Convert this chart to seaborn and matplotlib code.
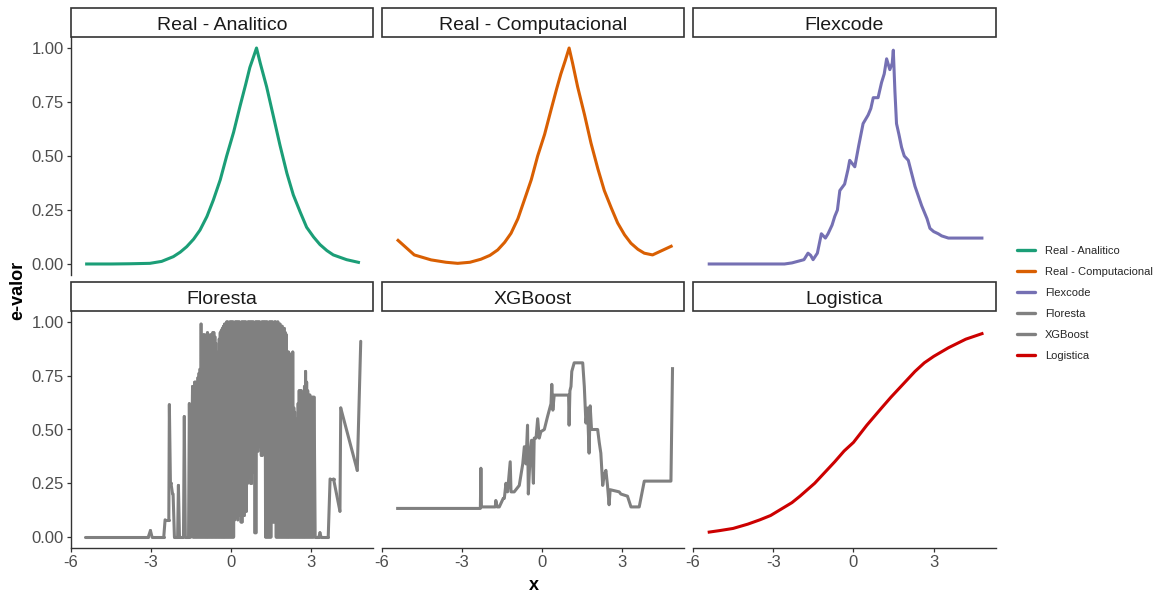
import numpy as np
import pandas as pd
import matplotlib
matplotlib.use("Agg")
import matplotlib.pyplot as plt
from matplotlib.patches import Rectangle
from matplotlib.lines import Line2D
import seaborn as sns

modelos = ["Real - Analitico", "Real - Computacional", "Flexcode",
           "Floresta", "XGBoost", "Logistica"]
cores = ["#1B9E77", "#D95F02", "#7570B3", "#808080", "#808080", "#CC0000"]

x_ticks = [-6, -3, 0, 3]
y_ticks = [0.0, 0.25, 0.50, 0.75, 1.0]
y_tick_labels = ["0.00", "0.25", "0.50", "0.75", "1.00"]

analitico_x = [-5.47, -4.5, -3.8, -3.04, -2.6, -2.16, -1.9, -1.66, -1.4, -1.16, -0.9, -0.66,
               -0.4, -0.16, 0.1, 0.34, 0.55, 0.71, 0.85, 0.96, 1.1, 1.34, 1.6, 1.84, 2.1,
               2.34, 2.6, 2.84, 3.1, 3.34, 3.6, 3.84, 4.34, 4.84]
analitico_y = [0.0, 0.0, 0.001, 0.003, 0.012, 0.034, 0.055, 0.08, 0.115, 0.157, 0.22, 0.296,
               0.39, 0.50, 0.61, 0.73, 0.83, 0.91, 0.96, 1.0, 0.93, 0.82, 0.68, 0.55, 0.42,
               0.32, 0.24, 0.17, 0.125, 0.09, 0.062, 0.042, 0.02, 0.006]

comput_x = [-5.44, -4.79, -4.16, -3.6, -3.16, -2.7, -2.29, -1.95, -1.66, -1.4, -1.16, -0.9,
            -0.66, -0.4, -0.16, 0.1, 0.34, 0.55, 0.71, 0.87, 1.02, 1.15, 1.34, 1.6, 1.84,
            2.1, 2.34, 2.6, 2.84, 3.1, 3.34, 3.6, 3.84, 4.15, 4.9]
comput_y = [0.114, 0.042, 0.019, 0.008, 0.003, 0.008, 0.022, 0.04, 0.065, 0.10, 0.142, 0.21,
            0.296, 0.39, 0.50, 0.60, 0.713, 0.81, 0.88, 0.94, 1.0, 0.93, 0.82, 0.69, 0.56,
            0.44, 0.34, 0.26, 0.19, 0.135, 0.096, 0.068, 0.05, 0.042, 0.085]

flex_x = [-5.45, -2.58, -2.3, -2.0, -1.85, -1.7, -1.6, -1.51, -1.35, -1.2, -1.05, -0.95,
          -0.8, -0.7, -0.6, -0.51, -0.33, -0.2, -0.14, 0.05, 0.2, 0.36, 0.55, 0.65, 0.74,
          0.92, 1.05, 1.15, 1.24, 1.36, 1.45, 1.49, 1.55, 1.61, 1.7, 1.8, 1.9, 2.05, 2.3,
          2.55, 2.75, 2.86, 3.0, 3.17, 3.3, 3.55, 4.0, 4.86]
flex_y = [0.0, 0.0, 0.005, 0.015, 0.02, 0.05, 0.04, 0.02, 0.05, 0.14, 0.12, 0.14,
          0.18, 0.22, 0.25, 0.34, 0.37, 0.44, 0.48, 0.45, 0.55, 0.65, 0.69, 0.72, 0.77,
          0.77, 0.84, 0.88, 0.95, 0.90, 0.93, 0.99, 0.80, 0.65, 0.60, 0.54, 0.50, 0.48, 0.36,
          0.27, 0.21, 0.165, 0.15, 0.14, 0.13, 0.12, 0.12, 0.12]

# Floresta: sparse parts (left and right of the dense zone)
floresta_x = [-5.47, -3.10, -3.02, -2.96, -2.52, -2.47, -2.33, -2.31, -2.27, -2.25, -2.19,
              -2.17, -2.12, -2.00, -1.97, -1.93, -1.78, -1.75, -1.71, -1.59, -1.56, -1.51,
              3.16, 3.30, 3.34, 3.38, 3.65, 3.72, 3.85, 4.09, 4.12, 4.74, 4.87]
floresta_y = [0, 0, 0.03, 0, 0, 0.08, 0.08, 0.615, 0.25, 0.25, 0.20,
              0.20, 0, 0, 0.24, 0, 0, 0.56, 0, 0, 0.62, 0,
              0, 0, 0.02, 0, 0, 0.27, 0.27, 0.12, 0.60, 0.31, 0.91]
# Floresta: dense oscillating zone, upper readings
floresta_hi_x = [-1.44, -1.40, -1.36, -1.32, -1.28, -1.24, -1.20, -1.16, -1.12, -1.08,
                 -1.04, -1.00, -0.96, -0.92, -0.88, -0.84, -0.80, -0.76, -0.72, -0.68,
                 -0.64, -0.60, -0.56, -0.52, -0.48, -0.44, -0.40, -0.36, -0.32, -0.28,
                 -0.24, -0.20, -0.16, -0.12, -0.08, -0.04, 0.00, 0.04, 0.08, 0.12,
                 0.16, 0.20, 0.24, 0.28, 0.32, 0.36, 0.40, 0.44, 0.48, 0.52,
                 0.56, 0.60, 0.64, 0.68, 0.72, 0.76, 0.80, 0.84, 0.88, 0.92,
                 0.96, 1.00, 1.04, 1.08, 1.12, 1.16, 1.20, 1.24, 1.28, 1.32,
                 1.36, 1.40, 1.44, 1.48, 1.52, 1.56, 1.60, 1.64, 1.68, 1.72,
                 1.76, 1.80, 1.84, 1.88, 1.92, 1.96, 2.00, 2.04, 2.08, 2.12,
                 2.16, 2.20, 2.24, 2.28, 2.32, 2.36, 2.40, 2.44, 2.48, 2.52,
                 2.56, 2.60, 2.64, 2.68, 2.72, 2.76, 2.80, 2.84, 2.88, 2.92,
                 2.96, 3.00, 3.04, 3.08, 3.12]
floresta_hi = [0.70, 0.70, 0.72, 0.72, 0.71, 0.74, 0.76, 0.78, 0.99, 0.93,
               0.94, 0.94, 0.93, 0.94, 0.95, 0.94, 0.93, 0.94, 0.94, 0.95,
               0.95, 0.93, 0.90, 0.86, 0.78, 0.92, 0.95, 0.96, 0.97, 0.98,
               0.99, 0.99, 1.00, 1.00, 0.99, 1.00, 1.00, 1.00, 1.00, 0.99,
               1.00, 1.00, 1.00, 1.00, 1.00, 0.99, 1.00, 1.00, 1.00, 1.00,
               1.00, 0.99, 1.00, 1.00, 1.00, 1.00, 1.00, 1.00, 0.99, 1.00,
               1.00, 1.00, 1.00, 1.00, 0.99, 1.00, 1.00, 1.00, 1.00, 1.00,
               1.00, 0.99, 1.00, 1.00, 1.00, 1.00, 0.99, 1.00, 1.00, 0.99,
               1.00, 0.99, 0.99, 0.98, 0.98, 0.97, 0.97, 0.95, 0.94, 0.86,
               0.86, 0.85, 0.85, 0.85, 0.86, 0.60, 0.58, 0.55, 0.53, 0.62,
               0.68, 0.68, 0.68, 0.66, 0.66, 0.70, 0.77, 0.72, 0.68, 0.66,
               0.66, 0.65, 0.65, 0.65, 0.65]
# Floresta: dense oscillating zone, lower readings
floresta_lo_x = [-1.42, -1.38, -1.34, -1.30, -1.26, -1.22, -1.18, -1.14, -1.10, -1.06,
                 -1.02, -0.98, -0.94, -0.90, -0.86, -0.82, -0.78, -0.74, -0.70, -0.66,
                 -0.62, -0.58, -0.54, -0.50, -0.46, -0.42, -0.38, -0.34, -0.30, -0.26,
                 -0.22, -0.18, -0.14, -0.10, -0.06, -0.02, 0.02, 0.06, 0.10, 0.14,
                 0.18, 0.22, 0.26, 0.30, 0.34, 0.38, 0.42, 0.46, 0.50, 0.54,
                 0.58, 0.62, 0.66, 0.70, 0.74, 0.78, 0.82, 0.86, 0.90, 0.94,
                 0.98, 1.02, 1.06, 1.10, 1.14, 1.18, 1.22, 1.26, 1.30, 1.34,
                 1.38, 1.42, 1.46, 1.50, 1.54, 1.58, 1.62, 1.66, 1.70, 1.74,
                 1.78, 1.82, 1.86, 1.90, 1.94, 1.98, 2.02, 2.06, 2.10, 2.14,
                 2.18, 2.22, 2.26, 2.30, 2.34, 2.38, 2.42, 2.46, 2.50, 2.54,
                 2.58, 2.62, 2.66, 2.70, 2.74, 2.78, 2.82, 2.86, 2.90, 2.94,
                 2.98, 3.02, 3.06, 3.10]
floresta_lo = [0, 0, 0, 0, 0, 0, 0, 0, 0, 0,
               0, 0, 0, 0, 0, 0, 0, 0, 0, 0,
               0, 0, 0, 0, 0, 0, 0, 0, 0, 0,
               0, 0, 0, 0, 0, 0, 0, 0, 0, 0.08,
               0.10, 0.09, 0.08, 0.10, 0.10, 0.07, 0.07, 0.10, 0.10, 0.12,
               0.12, 0.25, 0.28, 0.28, 0.25, 0.25, 0.30, 0.30, 0.02, 0.02,
               0.40, 0.40, 0.42, 0.42, 0.38, 0.38, 0.40, 0.40, 0, 0,
               0, 0, 0, 0, 0.07, 0.07, 0.07, 0.07, 0, 0,
               0, 0, 0, 0, 0, 0, 0, 0, 0, 0,
               0, 0, 0, 0, 0, 0, 0, 0, 0, 0,
               0, 0, 0, 0, 0, 0, 0, 0, 0, 0,
               0, 0, 0, 0]

xgb_x = [-5.47, -2.31, -2.29, -2.27, -1.75, -1.73, -1.68, -1.60, -1.45, -1.41, -1.35, -1.29,
         -1.19, -1.16, -1.04, -0.85, -0.72, -0.66, -0.60, -0.54, -0.51, -0.44, -0.39, -0.32,
         -0.29, -0.22, -0.16, -0.10, -0.04, 0.09, 0.21, 0.34, 0.37, 0.41, 0.46, 1.00, 1.02,
         1.05, 1.09, 1.12, 1.21, 1.53, 1.59, 1.65, 1.71, 1.77, 1.81, 1.86, 2.09, 2.15, 2.21,
         2.28, 2.34, 2.40, 2.46, 2.52, 2.56, 2.90, 2.96, 3.21, 3.34, 3.65, 3.84, 4.84, 4.90]
xgb_y = [0.133, 0.133, 0.32, 0.14, 0.14, 0.17, 0.14, 0.14, 0.18, 0.18, 0.25, 0.21,
         0.35, 0.21, 0.21, 0.24, 0.34, 0.42, 0.34, 0.52, 0.20, 0.39, 0.45, 0.25,
         0.46, 0.46, 0.55, 0.46, 0.49, 0.50, 0.56, 0.62, 0.71, 0.59, 0.66, 0.66, 0.52,
         0.68, 0.70, 0.77, 0.81, 0.81, 0.70, 0.53, 0.60, 0.39, 0.61, 0.50, 0.50, 0.44, 0.39,
         0.24, 0.29, 0.31, 0.24, 0.15, 0.22, 0.21, 0.20, 0.19, 0.14, 0.14, 0.26, 0.26, 0.79]

logit_x = [-5.45, -5.0, -4.5, -3.95, -3.5, -3.1, -2.7, -2.3, -2.0, -1.45, -1.0, -0.7, -0.35,
           0.0, 0.5, 1.05, 1.4, 1.7, 2.0, 2.3, 2.65, 3.0, 3.55, 4.2, 4.86]
logit_y = [0.022, 0.03, 0.04, 0.06, 0.08, 0.10, 0.13, 0.16, 0.19, 0.25, 0.31, 0.35, 0.40,
           0.44, 0.52, 0.60, 0.65, 0.69, 0.73, 0.77, 0.81, 0.84, 0.88, 0.92, 0.948]

# ---- build long table ----
def whole(name, xs, ys):
    return pd.DataFrame({"x": xs, "y": ys, "modelo": name, "seg": 0})

# Floresta is split into consecutive segments (one unit per segment) so the very
# dense zig-zag is rendered as overlapping strokes without winding holes.
fl = pd.DataFrame({"x": floresta_x + floresta_hi_x + floresta_lo_x,
                   "y": floresta_y + floresta_hi + floresta_lo}).sort_values("x")
fl = fl.reset_index(drop=True)
seg_start = fl.iloc[:-1].reset_index(drop=True).assign(seg=lambda d: d.index)
seg_end = fl.iloc[1:].reset_index(drop=True).assign(seg=lambda d: d.index)
fl_segments = pd.concat([seg_start, seg_end], ignore_index=True)
fl_segments["modelo"] = modelos[3]

df = pd.concat([
    whole(modelos[0], analitico_x, analitico_y),
    whole(modelos[1], comput_x, comput_y),
    whole(modelos[2], flex_x, flex_y),
    fl_segments,
    whole(modelos[4], xgb_x, xgb_y),
    whole(modelos[5], logit_x, logit_y),
], ignore_index=True)

sns.set_theme(style="ticks")
plt.rcParams["font.family"] = ["Liberation Sans", "DejaVu Sans"]
plt.rcParams["path.simplify"] = False
plt.rcParams["agg.path.chunksize"] = 0

g = sns.relplot(data=df, x="x", y="y", col="modelo", col_order=modelos, col_wrap=3,
                hue="modelo", hue_order=modelos, palette=cores, kind="line",
                units="seg", estimator=None, sort=True, linewidth=2.2, legend=False,
                height=3, aspect=1.2, facet_kws=dict(sharex=True, sharey=True))
fig = g.figure
fig.set_size_inches(11.6, 5.99)
fig.set_dpi(100)
g.set_titles("")
g.set_axis_labels("", "")

W, H = 1160.0, 599.0
cols = [(71, 373), (382, 684), (693, 996)]
rows = [(37, 275), (311, 548)]
strip_h = 29

for i, name in enumerate(modelos):
    r, c = divmod(i, 3)
    ax = g.axes_dict[name]
    for ln in ax.get_lines():
        ln.set_solid_joinstyle("round")
        ln.set_solid_capstyle("round" if name == "Floresta" else "butt")
    l, rr = cols[c]
    t, b = rows[r]
    ax.set_position([l / W, 1 - b / H, (rr - l) / W, (b - t) / H])
    ax.set_xlim(-6.0, 5.33)
    ax.set_ylim(-0.051, 1.051)
    ax.set_xticks(x_ticks)
    ax.set_xticklabels([str(v) for v in x_ticks])
    ax.set_yticks(y_ticks)
    ax.set_yticklabels(y_tick_labels)
    ax.set_title("")
    for s in ["top", "right"]:
        ax.spines[s].set_visible(False)
    for s in ["left", "bottom"]:
        ax.spines[s].set_linewidth(1.0)
        ax.spines[s].set_color("#333333")
    ax.tick_params(axis="both", labelsize=12, labelcolor="#4D4D4D", color="#333333",
                   length=2.9, width=0.9, pad=2.2)
    if r == 0:
        ax.spines["bottom"].set_visible(False)
        ax.tick_params(axis="x", bottom=False, labelbottom=False)
    else:
        ax.tick_params(axis="x", bottom=True, labelbottom=True)
    if c != 0:
        ax.spines["left"].set_visible(False)
        ax.tick_params(axis="y", left=False, labelleft=False)
    else:
        ax.tick_params(axis="y", left=True, labelleft=True)
    hfrac = strip_h / (b - t)
    ax.add_patch(Rectangle((0, 1), 1, hfrac, transform=ax.transAxes, clip_on=False,
                           facecolor="white", edgecolor="#333333", linewidth=1.2))
    ax.text(0.5, 1 + hfrac / 2 - 0.012, name, transform=ax.transAxes, ha="center",
            va="center", fontsize=14, color="#1A1A1A")

fig.text(533.5 / W, 1 - 586 / H, "x", ha="center", va="center", fontsize=13,
         fontweight="bold", color="black")
fig.text(18 / W, 1 - 290 / H, "e-valor", ha="center", va="center", rotation=90,
         fontsize=13, fontweight="bold", color="black")

handles = [Line2D([0], [0], color=c, lw=2.4) for c in cores]
fig.legend(handles, modelos, loc="center left", bbox_to_anchor=(1017 / W, 1 - 303.5 / H),
           frameon=False, fontsize=8, handlelength=1.6, handletextpad=0.9,
           labelspacing=0.98, borderaxespad=0, borderpad=0)

fig.savefig("out.png", dpi=100)
